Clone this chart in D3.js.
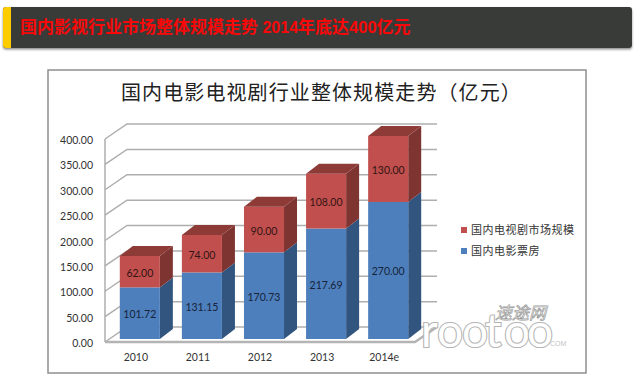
<!DOCTYPE html>
<html>
<head>
<meta charset="utf-8">
<script src="https://cdn.jsdelivr.net/npm/d3@7/dist/d3.min.js"></script>
<style>
html, body { margin: 0; padding: 0; background: #fff; overflow: hidden; }
text { font-family: Lato, "Noto Sans CJK SC", sans-serif; }
</style>
</head>
<body>
<div id="viz"></div>
<script>
var categories = ["2010", "2011", "2012", "2013", "2014e"];
var boxOffice = [101.72, 131.15, 170.73, 217.69, 270.00];
var tvMarket = [62.00, 74.00, 90.00, 108.00, 130.00];
var yTicks = [0, 50, 100, 150, 200, 250, 300, 350, 400];
var legendLabels = ["国内电视剧市场规模", "国内电影票房"];

var width = 635, height = 385;
var cjk = '"Noto Sans CJK SC", sans-serif';

var svg = d3.select("#viz").append("svg")
    .attr("width", width)
    .attr("height", height)
    .style("display", "block");

var defs = svg.append("defs");
var soft = defs.append("filter").attr("id", "soft");
soft.append("feGaussianBlur").attr("stdDeviation", 0.35);
var shadow = defs.append("filter").attr("id", "shadow")
    .attr("x", "-2%").attr("y", "-10%").attr("width", "104%").attr("height", "125%");
shadow.append("feDropShadow").attr("dx", 0).attr("dy", 1.5).attr("stdDeviation", 1.2).attr("flood-color", "#888");

// header strip
svg.append("rect").attr("x", 3).attr("y", 7).attr("width", 629).attr("height", 41).attr("rx", 3)
    .attr("fill", "#393a39").attr("filter", "url(#shadow)");
svg.append("path").attr("d", "M11,7H6a3,3 0 0 0 -3,3V45a3,3 0 0 0 3,3H11Z").attr("fill", "#fdcc00");
var headerText = svg.append("text").attr("x", 20).attr("y", 33)
    .attr("fill", "#f80808").attr("font-size", 17).attr("font-weight", 700)
    .style("font-family", '"Liberation Sans", "Noto Sans CJK SC", sans-serif');
[["国内影视行业市场整体规模走势", 17], [" 2014", 16], ["年底达", 17], ["400", 16.5], ["亿元", 17]].forEach(function(p) {
    headerText.append("tspan").attr("font-size", p[1]).text(p[0]);
});

// chart frame
svg.append("rect").attr("x", 48).attr("y", 70).attr("width", 538).attr("height", 303)
    .attr("fill", "#fff").attr("stroke", "#8f8f8f").attr("stroke-width", 1.5);

svg.append("text").attr("x", 121).attr("y", 100)
    .attr("font-size", 20).attr("fill", "#222")
    .style("font-family", cjk).style("letter-spacing", "1.1px")
    .text("国内电影电视剧行业整体规模走势（亿元）");

// scales, front plane of the 3D box
var yScale = d3.scaleLinear().domain([0, 400]).range([342, 139]);
var xScale = d3.scaleBand().domain(categories).range([108, 420]).paddingInner(0.355).paddingOuter(0.19);

var wallDx = 22, wallDy = -15, wallRight = 437;
var barDx = 13, barDy = -10, barLift = 3;

// walls and gridlines
var plot = svg.append("g").attr("filter", "url(#soft)");
plot.selectAll("path.grid")
    .data(yTicks)
    .enter()
    .append("path")
    .attr("class", "grid")
    .attr("fill", "none")
    .attr("stroke", "#aeaeae")
    .attr("stroke-width", 1.5)
    .attr("d", function(d) {
        var y = yScale(d);
        return "M105," + y + "L" + (105 + wallDx) + "," + (y + wallDy) + "H" + wallRight;
    });
plot.append("path").attr("fill", "none").attr("stroke", "#aeaeae").attr("stroke-width", 1.5)
    .attr("d", "M105," + yScale(0) + "V" + yScale(400));
plot.append("path").attr("fill", "none").attr("stroke", "#b4b4b4").attr("stroke-width", 2.5)
    .attr("d", "M105," + yScale(0) + "H" + (wallRight - wallDx) + "L" + wallRight + "," + (yScale(0) + wallDy));

// one stacked box
var drawBox = function(g, x, w, yBottom, yTop, front, side, top) {
    g.append("path").attr("fill", side)
        .attr("d", "M" + (x + w) + "," + yBottom + "l" + barDx + "," + barDy + "V" + (yTop + barDy) + "l" + (-barDx) + "," + (-barDy) + "Z");
    g.append("rect").attr("x", x).attr("y", yTop).attr("width", w).attr("height", yBottom - yTop).attr("fill", front);
    if (top) {
        g.append("path").attr("fill", top)
            .attr("d", "M" + x + "," + yTop + "l" + barDx + "," + barDy + "h" + w + "l" + (-barDx) + "," + (-barDy) + "Z");
    }
};

// watermark
var mark = svg.append("g");
mark.append("text").attr("x", "421 437 462 485 504 527").attr("y", 347)
    .attr("font-size", 46).attr("fill", "#fff").attr("stroke", "#b4b4b4").attr("stroke-width", 2.2)
    .style("paint-order", "stroke")
    .style("font-family", 'Lato, sans-serif')
    .text("rootoo");
mark.append("text").attr("x", 495).attr("y", 319)
    .attr("font-size", 17).attr("font-style", "italic").attr("fill", "#fff").attr("stroke", "#9c9c9c").attr("stroke-width", 0.7)
    .style("font-family", cjk)
    .text("速途网");
mark.append("text").attr("x", 550).attr("y", 346)
    .attr("font-size", 7).attr("fill", "#c4c4c4")
    .style("font-family", '"Liberation Sans", sans-serif')
    .text("COM");

categories.forEach(function(c, i) {
    var x = xScale(c), w = xScale.bandwidth();
    var y0 = yScale(0) - barLift;
    var y1 = yScale(boxOffice[i]) - barLift;
    var y2 = yScale(boxOffice[i] + tvMarket[i]) - barLift;
    drawBox(plot, x, w, y0, y1, "#4d7fbc", "#30547f", null);
    drawBox(plot, x, w, y1, y2, "#c0504d", "#7e3432", "#8e3b39");

    svg.append("text").attr("x", x + w / 2).attr("y", (y0 + y1) / 2 + 5)
        .attr("text-anchor", "middle").attr("font-size", 10.5).attr("fill", "#16233a")
        .text(boxOffice[i].toFixed(2));
    svg.append("text").attr("x", x + w / 2).attr("y", (y1 + y2) / 2 + 5)
        .attr("text-anchor", "middle").attr("font-size", 10.5).attr("fill", "#331414")
        .text(tvMarket[i].toFixed(2));
    svg.append("text").attr("x", x + w / 2 - 4).attr("y", 361)
        .attr("text-anchor", "middle").attr("font-size", 10.5).attr("fill", "#333")
        .text(c);
});

// y axis labels
svg.selectAll("text.ytick")
    .data(yTicks)
    .enter()
    .append("text")
    .attr("class", "ytick")
    .attr("x", 93)
    .attr("y", function(d) { return yScale(d) + 5; })
    .attr("text-anchor", "end")
    .attr("font-size", 10.5)
    .attr("fill", "#333")
    .text(function(d) { return d.toFixed(2); });

// legend
var legendColors = ["#c0504d", "#4d7fbc"];
var legendY = [230, 251];
legendLabels.forEach(function(l, i) {
    svg.append("rect").attr("x", 461).attr("y", legendY[i] - 3).attr("width", 6).attr("height", 6).attr("fill", legendColors[i]);
    svg.append("text").attr("x", 471).attr("y", legendY[i] + 4)
        .attr("font-size", 11).attr("fill", "#333")
        .style("font-family", cjk).style("letter-spacing", "0.5px")
        .text(l);
});
</script>
</body>
</html>
